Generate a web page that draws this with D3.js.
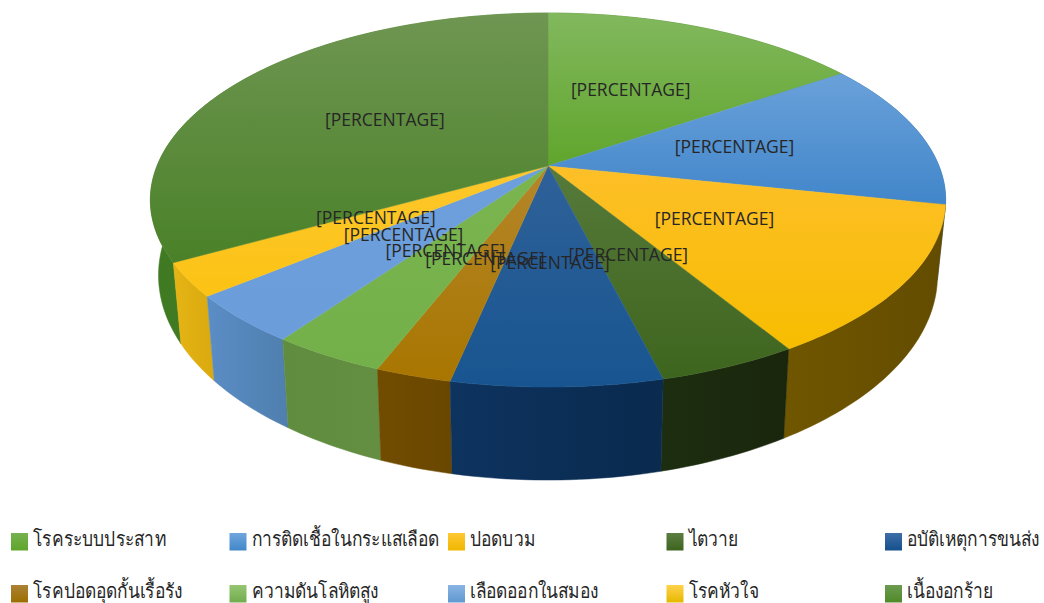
<!DOCTYPE html>
<html>
<head>
<meta charset="utf-8">
<script src="https://d3js.org/d3.v7.min.js"></script>
<style>
  html, body { margin: 0; padding: 0; background: #fff; overflow: hidden; }
  svg { display: block; }
  text { font-family: "Open Sans", "Noto Sans", sans-serif; fill: #262626; }
</style>
</head>
<body>
<div id="chart"></div>
<script>
const categories = ["โรคระบบประสาท", "การติดเชื้อในกระแสเลือด", "ปอดบวม", "ไตวาย", "อบัติเหตุการขนส่ง",
  "โรคปอดอุดกั้นเรื้อรัง", "ความดันโลหิตสูง", "เลือดออกในสมอง", "โรคหัวใจ", "เนื้องอกร้าย"];
const values = [15.5, 12.8, 13, 4.8, 7.2, 2.6, 3.9, 4.2, 2.9, 33.1];
const labelText = "[PERCENTAGE]";

// top face gradient (light, dark), wall gradient (left, right), legend swatch gradient
const topLight = ["#82b85e", "#6aa1da", "#fdbf28", "#567a3a", "#2f6199", "#b5862a", "#7ab550", "#6d9fdc", "#fdc72c", "#6f9652"];
const topDark = ["#60a52c", "#4186ca", "#f7bd00", "#3e651e", "#185590", "#a87600", "#74b04a", "#6b9ddb", "#fcc314", "#4a8128"];
const wallLeft = ["#4a7f26", "#2f6aa3", "#705600", "#1d2e10", "#0d335f", "#714c00", "#5f8c3e", "#5b8dc6", "#e6b414", "#3f7a22"];
const wallRight = ["#4a7f26", "#2f6aa3", "#634c00", "#1a260c", "#0a2a4e", "#6a4700", "#648f42", "#4f7fae", "#d9a90f", "#4a8228"];
const swatchLight = ["#75b24f", "#6fa5dd", "#ffc733", "#5c7d42", "#3f6ea8", "#ab8235", "#95c672", "#8ab4e4", "#ffd24d", "#6c9b4f"];
const swatchDark = ["#60a52c", "#4287ca", "#f0b800", "#3d651e", "#14508c", "#9c6e00", "#72ab4d", "#5f98d0", "#e6b800", "#4f8a2a"];

const W = 1044, H = 603;

// perspective disc: v grows towards the viewer
const k = 0.182;
const topRim = { cy: 166, a: 391, b: 180.8 };
const lowRim = { cy: 238, a: 383, b: 198 };

function project(rim, angle, r) {
  const u = Math.sin(angle) * r;
  const v = -Math.cos(angle) * r;
  const w = 1 - k * v;
  return [548 + rim.a * u / w, rim.cy + rim.b * v / w];
}

const svg = d3.select("#chart").append("svg").attr("width", W).attr("height", H);
const defs = svg.append("defs");

function gradient(id, c1, c2, horizontal) {
  const g = defs.append("linearGradient").attr("id", id)
    .attr("x1", 0).attr("y1", 0)
    .attr("x2", horizontal ? 1 : 0).attr("y2", horizontal ? 0 : 1);
  g.append("stop").attr("offset", "0%").attr("stop-color", c1);
  g.append("stop").attr("offset", "100%").attr("stop-color", c2);
}

categories.forEach((c, i) => {
  gradient("top" + i, topLight[i], topDark[i], false);
  gradient("wall" + i, wallLeft[i], wallRight[i], true);
  gradient("swatch" + i, swatchLight[i], swatchDark[i], false);
});

const arcs = d3.pie().sort(null)(values).map((d, i) => ({ ...d, i }));
const line = d3.line();

function rimPoints(rim, d) {
  const n = Math.max(4, Math.ceil((d.endAngle - d.startAngle) / 0.02));
  return d3.range(n + 1).map(j =>
    project(rim, d.startAngle + (d.endAngle - d.startAngle) * j / n, 1));
}

// Walls, far ones first
const wallOrder = arcs.slice().sort((p, q) =>
  -Math.cos((p.startAngle + p.endAngle) / 2) - -Math.cos((q.startAngle + q.endAngle) / 2));

svg.append("g").selectAll("path")
  .data(wallOrder)
  .join("path")
  .attr("d", d => line(rimPoints(topRim, d).concat(rimPoints(lowRim, d).reverse())) + "Z")
  .attr("fill", d => `url(#wall${d.i})`)
  .attr("stroke", d => `url(#wall${d.i})`)
  .attr("stroke-width", 0.5);

// Top face
svg.append("g").selectAll("path")
  .data(arcs)
  .join("path")
  .attr("d", d => line([project(topRim, 0, 0)].concat(rimPoints(topRim, d))) + "Z")
  .attr("fill", d => `url(#top${d.i})`)
  .attr("stroke", d => `url(#top${d.i})`)
  .attr("stroke-width", 0.5);

// Data labels at half radius
svg.append("g").selectAll("text")
  .data(arcs)
  .join("text")
  .attr("x", d => project(topRim, (d.startAngle + d.endAngle) / 2, 0.5)[0] - 2)
  .attr("y", d => project(topRim, (d.startAngle + d.endAngle) / 2, 0.5)[1] + 4)
  .attr("text-anchor", "middle")
  .style("font-size", "17.5px")
  .text(labelText);

// Legend, two rows of five
const colX = d3.scaleLinear().domain([0, 4]).range([11, 885]);
const rowY = d3.scaleLinear().domain([0, 1]).range([533, 585]);

const legend = svg.append("g").selectAll("g")
  .data(categories)
  .join("g")
  .attr("transform", (d, i) => `translate(${colX(i % 5)},${rowY(Math.floor(i / 5))})`);

legend.append("rect")
  .attr("width", 17)
  .attr("height", 17.5)
  .attr("fill", (d, i) => `url(#swatch${i})`);

// Thai fallback runs wider than the original, so squeeze it sideways
legend.append("text")
  .attr("transform", "translate(22,13) scale(0.87,1)")
  .style("font-size", "20px")
  .text(d => d);
</script>
</body>
</html>
